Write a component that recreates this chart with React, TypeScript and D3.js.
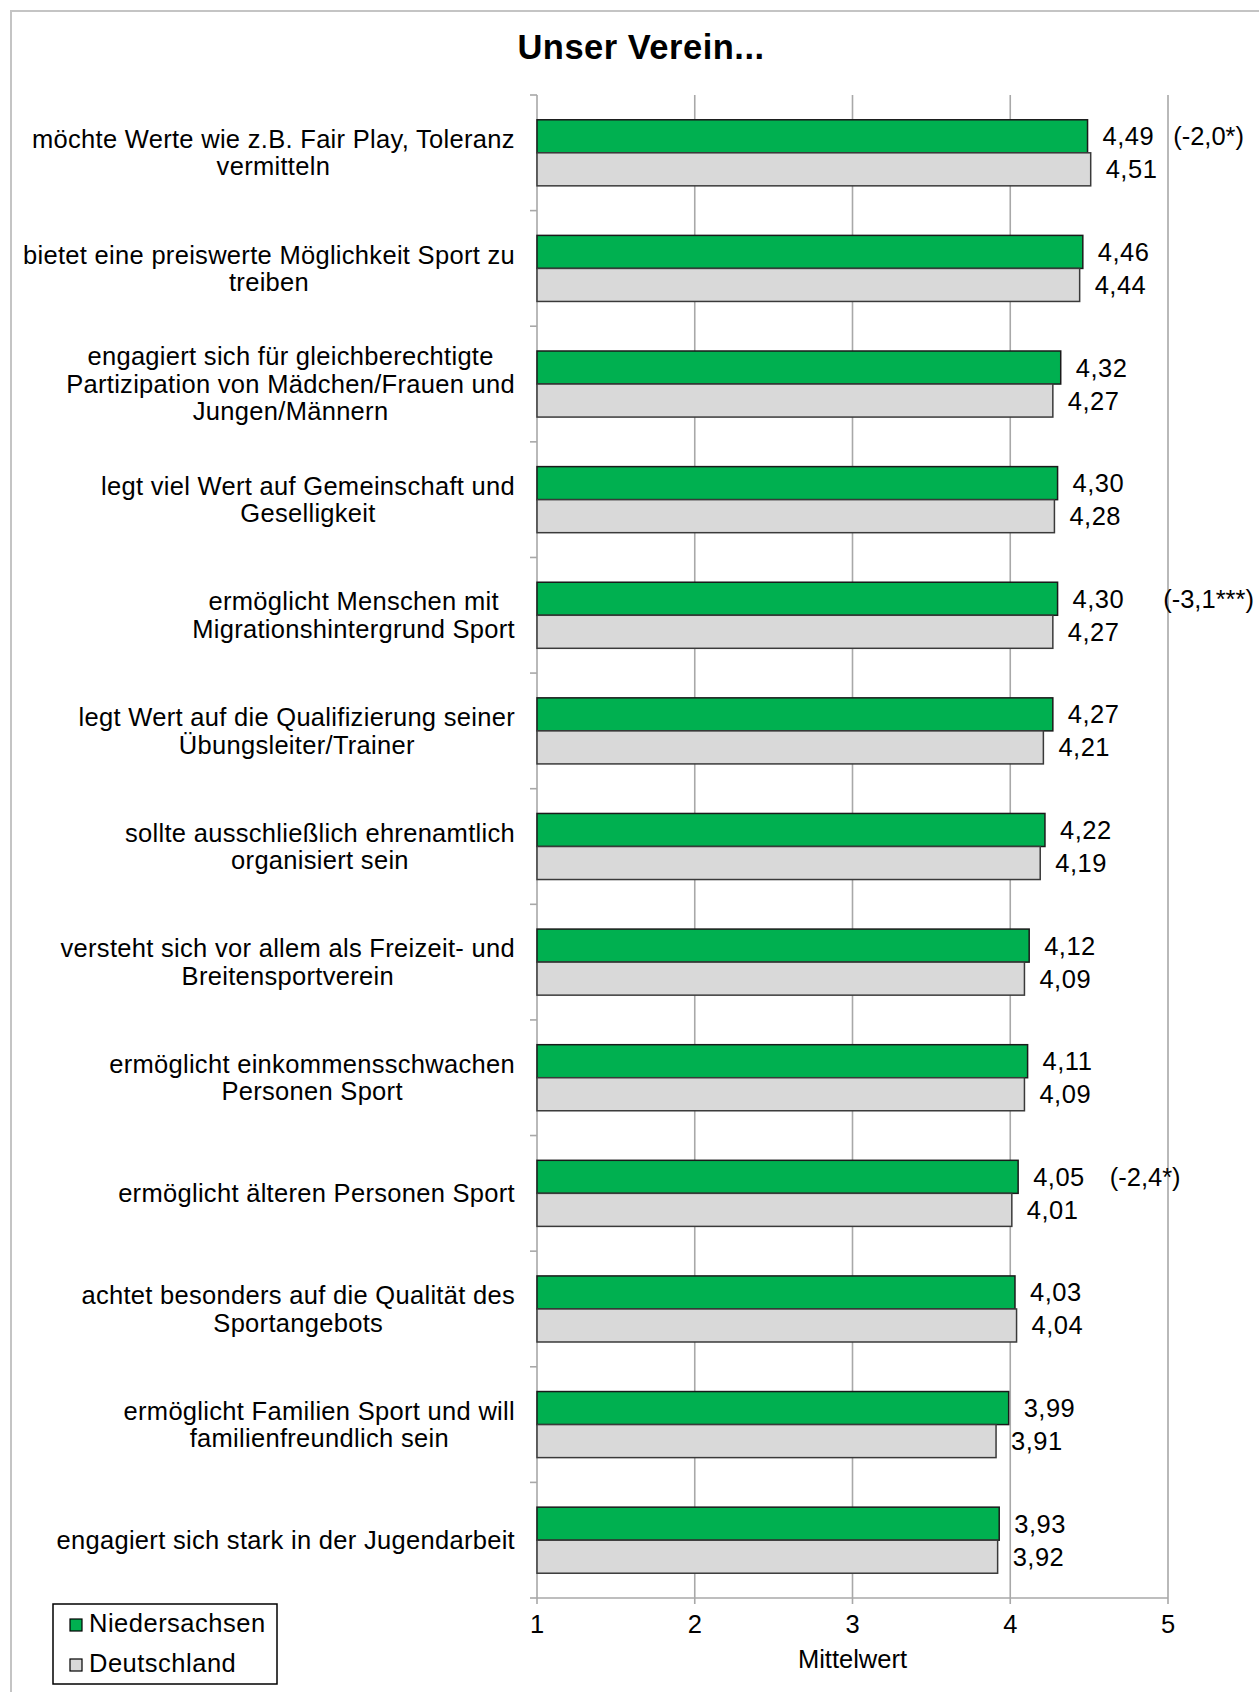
import { useMemo } from 'react';
import * as d3 from 'd3';

const CATEGORIES: string[][] = [
  ['möchte Werte wie z.B. Fair Play, Toleranz', 'vermitteln'],
  ['bietet eine preiswerte Möglichkeit Sport zu', 'treiben'],
  ['engagiert sich für gleichberechtigte', 'Partizipation von Mädchen/Frauen und', 'Jungen/Männern'],
  ['legt viel Wert auf Gemeinschaft und', 'Geselligkeit'],
  ['ermöglicht Menschen mit', 'Migrationshintergrund Sport'],
  ['legt Wert auf die Qualifizierung seiner', 'Übungsleiter/Trainer'],
  ['sollte ausschließlich ehrenamtlich', 'organisiert sein'],
  ['versteht sich vor allem als Freizeit- und', 'Breitensportverein'],
  ['ermöglicht einkommensschwachen', 'Personen Sport'],
  ['ermöglicht älteren Personen Sport'],
  ['achtet besonders auf die Qualität des', 'Sportangebots'],
  ['ermöglicht Familien Sport und will', 'familienfreundlich sein'],
  ['engagiert sich stark in der Jugendarbeit'],
];

const NIEDERSACHSEN = [4.49, 4.46, 4.32, 4.30, 4.30, 4.27, 4.22, 4.12, 4.11, 4.05, 4.03, 3.99, 3.93];
const DEUTSCHLAND = [4.51, 4.44, 4.27, 4.28, 4.27, 4.21, 4.19, 4.09, 4.09, 4.01, 4.04, 3.91, 3.92];

const SERIES = ['Niedersachsen', 'Deutschland'];
const X_TICKS = [1, 2, 3, 4, 5];

// significance notes next to some Niedersachsen values
const ANNOT_ROWS = [0, 4, 9];
const ANNOT_TEXT = ['(-2,0*)', '(-3,1***)', '(-2,4*)'];
const ANNOT_GAP = [19, 39, 25];

const W = 1259;
const H = 1692;
const FONT = '"Liberation Sans", Arial, sans-serif';
const FS = 25.5;
const LABEL_LS = 0.3;
const GREEN = '#00b050';
const GRAY = '#d9d9d9';
const GRID = '#a8a8a8';

const locale = d3.formatLocale({ decimal: ',', thousands: '.', grouping: [3], currency: ['', '€'] });
const fmt = locale.format('.2f');

function measure(text: string, size: number, weight = 'normal') {
  const c = document.createElement('canvas').getContext('2d')!;
  c.font = `${weight} ${size}px ${FONT}`;
  return c.measureText(text).width;
}

export default function App() {
  const x = d3.scaleLinear().domain([1, 5]).range([537, 1168]);
  const y = d3.scaleBand<number>().domain(CATEGORIES.map((_, i) => i)).range([95, 1598]);
  const yInner = d3.scaleBand<string>().domain(SERIES).range([0, y.bandwidth()]).paddingOuter(0.75);
  const values = [NIEDERSACHSEN, DEUTSCHLAND];
  const fills = [GREEN, GRAY];
  const strokes = ['#1a1a1a', '#3a3a3a'];

  const labelWidths = useMemo(
    () => CATEGORIES.map(lines => Math.max(...lines.map(l => measure(l, FS) + l.length * LABEL_LS))),
    []
  );

  const labelRight = 515;
  const lineH = 27.5;

  return (
    <div style={{ position: 'absolute', left: 0, top: 0 }}>
      <svg width={W} height={H} style={{ display: 'block', fontFamily: FONT, background: '#fff' }}>
        {/* outer frame */}
        <rect x={11} y={11} width={W + 20} height={H + 20} fill="none" stroke="#c4c4c4" strokeWidth={2} />

        <text x={641} y={59} textAnchor="middle" fontSize={34.5} fontWeight={700} letterSpacing={0.5} fill="#000">
          Unser Verein...
        </text>

        {/* gridlines */}
        {X_TICKS.map(t => (
          <line key={t} x1={x(t)} x2={x(t)} y1={95} y2={1604} stroke={GRID} strokeWidth={1.6} />
        ))}
        {/* bottom axis */}
        <line x1={x(1)} x2={x(5)} y1={1598} y2={1598} stroke={GRID} strokeWidth={1.6} />
        {/* left axis ticks */}
        {[...CATEGORIES.map((_, i) => y(i)!), 1598].map((v, i) => (
          <line key={i} x1={530} x2={x(1)} y1={v} y2={v} stroke={GRID} strokeWidth={1.6} />
        ))}

        {/* bars */}
        {CATEGORIES.map((_, i) => (
          <g key={i} transform={`translate(0,${y(i)})`}>
            {SERIES.map((s, k) => {
              const v = values[k][i];
              const by = yInner(s)!;
              const bh = yInner.bandwidth();
              return (
                <g key={s}>
                  <rect
                    x={x(1)}
                    y={by}
                    width={x(v) - x(1)}
                    height={bh}
                    fill={fills[k]}
                    stroke={strokes[k]}
                    strokeWidth={1.5}
                  />
                  <text x={x(v) + 15} y={by + bh / 2 + 9} fontSize={FS} letterSpacing={0.5} fill="#000">
                    {fmt(v)}
                  </text>
                </g>
              );
            })}
          </g>
        ))}

        {/* significance annotations */}
        {ANNOT_ROWS.map((row, j) => {
          const v = NIEDERSACHSEN[row];
          const lbl = fmt(v);
          const end = x(v) + 15 + measure(lbl, FS) + lbl.length * 0.5;
          const by = y(row)! + yInner(SERIES[0])! + yInner.bandwidth() / 2 + 9;
          return (
            <text key={row} x={end + ANNOT_GAP[j]} y={by} fontSize={FS} fill="#000">
              {ANNOT_TEXT[j]}
            </text>
          );
        })}

        {/* category labels */}
        {CATEGORIES.map((lines, i) => {
          const cy = y(i)! + y.bandwidth() / 2;
          const cx = labelRight - labelWidths[i] / 2;
          return (
            <text key={i} textAnchor="middle" fontSize={FS} letterSpacing={LABEL_LS} fill="#000">
              {lines.map((l, j) => (
                <tspan key={j} x={cx} y={cy + (j - (lines.length - 1) / 2) * lineH + FS * 0.35}>
                  {l}
                </tspan>
              ))}
            </text>
          );
        })}

        {/* x tick labels */}
        {X_TICKS.map(t => (
          <text key={t} x={x(t)} y={1633} textAnchor="middle" fontSize={FS} fill="#000">
            {t}
          </text>
        ))}
        <text x={x(3)} y={1668} textAnchor="middle" fontSize={FS} fill="#000">
          Mittelwert
        </text>

        {/* legend */}
        <rect x={53} y={1604} width={224} height={80} fill="#fff" stroke="#000" strokeWidth={1.5} />
        {SERIES.map((s, k) => (
          <g key={s} transform={`translate(70,${1619 + k * 40})`}>
            <rect x={0} y={0} width={12} height={12} fill={fills[k]} stroke="#000" strokeWidth={1.2} />
            <text x={19} y={13} fontSize={FS} letterSpacing={0.5} fill="#000">
              {s}
            </text>
          </g>
        ))}
      </svg>
    </div>
  );
}
